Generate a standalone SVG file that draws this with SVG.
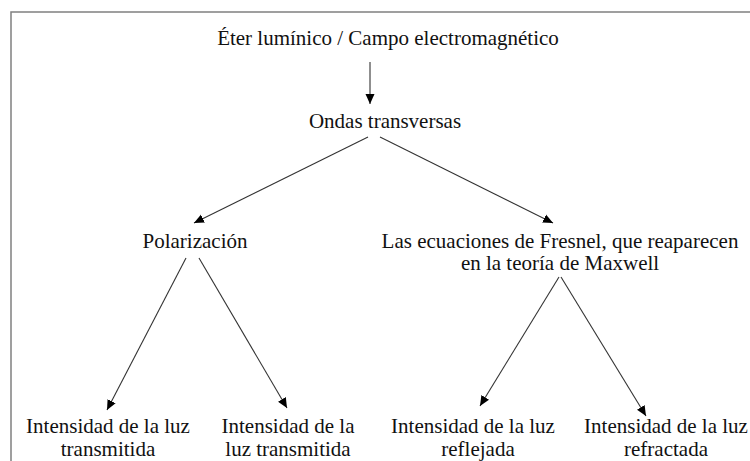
<svg xmlns="http://www.w3.org/2000/svg" width="750" height="461" viewBox="0 0 750 461">
<defs>
<style>
text{font-family:"Liberation Serif","Times New Roman",serif;font-size:21px;fill:#111;text-anchor:middle}
.c{stroke:#333;stroke-width:1.1;fill:none}
</style>
<marker id="ah" viewBox="0 0 10 10" refX="10" refY="5" markerWidth="10" markerHeight="10" markerUnits="userSpaceOnUse" orient="auto">
<path d="M0,0.5 L10,5 L0,9.5 Z" fill="#000"/>
</marker>
</defs>
<rect width="750" height="461" fill="#fff"/>
<rect x="11" y="12" width="800" height="500" fill="none" stroke="#808080" stroke-width="1.5"/>
<g id="connectors">
<line class="c" x1="370" y1="62" x2="370" y2="104" marker-end="url(#ah)"/>
<line class="c" x1="368" y1="137" x2="194" y2="223" marker-end="url(#ah)"/>
<line class="c" x1="380" y1="137" x2="553" y2="223" marker-end="url(#ah)"/>
<line class="c" x1="186" y1="258" x2="107" y2="410" marker-end="url(#ah)"/>
<line class="c" x1="199" y1="258" x2="287" y2="408" marker-end="url(#ah)"/>
<line class="c" x1="559" y1="277" x2="480" y2="406" marker-end="url(#ah)"/>
<line class="c" x1="561" y1="277" x2="646" y2="416" marker-end="url(#ah)"/>
</g>
<g id="n-eter"><text x="388" y="45">Éter lumínico / Campo electromagnético</text></g>
<g id="n-ondas"><text x="385" y="128">Ondas transversas</text></g>
<g id="n-polar"><text x="195" y="248">Polarización</text></g>
<g id="n-fresnel"><text x="560" y="248">Las ecuaciones de Fresnel, que reaparecen</text><text x="560" y="270">en la teoría de Maxwell</text></g>
<g id="n-t1"><text x="108" y="432.5">Intensidad de la luz</text><text x="108" y="456.3">transmitida</text></g>
<g id="n-t2"><text x="288" y="432.5">Intensidad de la</text><text x="288" y="456.3">luz transmitida</text></g>
<g id="n-refl"><text x="473" y="432.5">Intensidad de la luz</text><text x="478" y="456.3">reflejada</text></g>
<g id="n-refr"><text x="666" y="432.5">Intensidad de la luz</text><text x="666" y="456.3">refractada</text></g>
</svg>
